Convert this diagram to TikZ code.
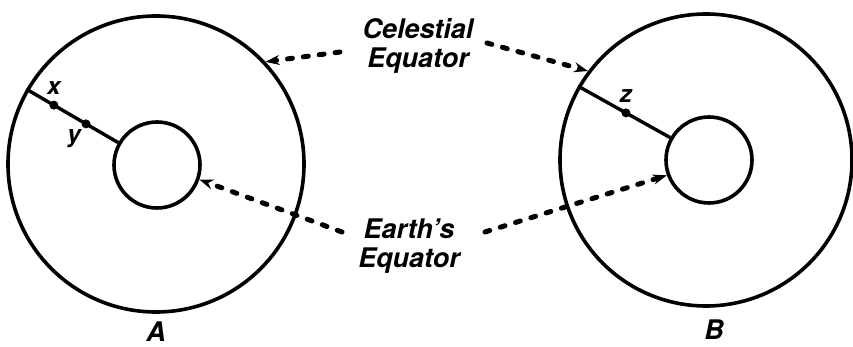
\documentclass[tikz,border=0pt]{standalone}
\usepackage{fontspec}
\setmainfont{TeX Gyre Heros}
\usetikzlibrary{arrows.meta}
\begin{document}
\begin{tikzpicture}[x=0.5pt, y=-0.5pt,
    ring/.style={circle, draw, line width=1.8pt, inner sep=0pt},
    dot/.style={circle, fill, inner sep=0pt, minimum size=4.5pt},
    pointer/.style={line width=2.5pt, line cap=round, dash pattern=on 2.5pt off 5.5pt,
        -{Stealth[length=7pt, width=5pt]}},
    lbl/.style={font=\fontsize{13.5}{14.5}\selectfont\bfseries\itshape, align=center, inner sep=0pt},
    small/.style={font=\fontsize{12}{12}\selectfont\bfseries\itshape, inner sep=0pt}
]
    \useasboundingbox (0,0) rectangle (853,347);

    % Sphere A
    \node[ring, minimum size=148pt] (Aout) at (156,164) {};
    \node[ring, minimum size=43pt] (Ain) at (157,165) {};
    \draw[line width=1.7pt] (Aout.150) -- (Ain.150)
        node[dot, pos=0.3] (x) {}
        node[dot, pos=0.65] (y) {};
    \node[small, above=5pt] at (x) {x};
    \node[small, below left=2.5pt] at (y) {y};
    \node[lbl] (labA) at (156,332) {A};

    % Sphere B
    \node[ring, minimum size=146pt] (Bout) at (706,160) {};
    \node[ring, minimum size=43pt] (Bin) at (709,160) {};
    \draw[line width=1.7pt] (Bout.150) -- (Bin.150)
        node[dot, pos=0.52] (z) {};
    \node[small, above=5pt] at (z) {z};
    \node[lbl] (labB) at (714,330) {B};

    % Labels in the middle
    \node[lbl] (cel) at (418,46) {Celestial\\Equator};
    \node[lbl] (earth) at (409,246) {Earth's\\Equator};

    % Ends of the pointers
    \coordinate (celL) at (340,52);
    \coordinate (celR) at (487,43);
    \coordinate (earthL) at (342,232);
    \coordinate (earthR) at (485,232);

    % Dotted pointers
    \draw[pointer] (celL) -- (Aout.43);
    \draw[pointer] (celR) -- (Bout.143);
    \draw[pointer] (earthL) -- (Ain.-19);
    \draw[pointer] (earthR) -- (Bin.200);
\end{tikzpicture}
\end{document}
